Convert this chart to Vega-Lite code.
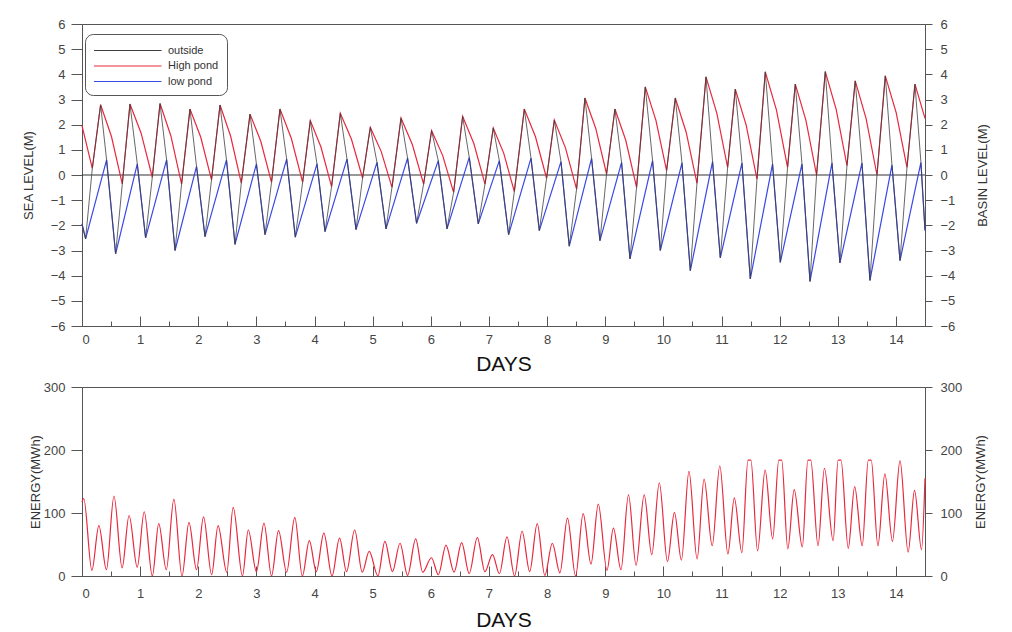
{
"$schema": "https://vega.github.io/schema/vega-lite/v6.json",
"background": "white",
"padding": {"left": 21, "top": 17, "right": 5, "bottom": 5},
"spacing": 5,
"config": {
  "font": "Liberation Sans",
  "view": {"stroke": "#555", "strokeWidth": 1},
  "axis": {"domainColor": "#555", "tickColor": "#555", "labelColor": "#444", "titleColor": "#333", "labelFontSize": 13, "titleFontSize": 13, "titleFontWeight": "normal", "grid": false, "labelFont": "Liberation Sans", "titleFont": "Liberation Sans"}
},
"datasets": {
  "outside": [
{"d":0,"v":-1.94},
{"d":0.062,"v":-2.54},{"d":0.177,"v":0.26},{"d":0.32,"v":2.79},{"d":0.423,"v":0.6},
{"d":0.578,"v":-3.13},{"d":0.693,"v":-0.36},{"d":0.825,"v":2.82},{"d":0.951,"v":0.44},
{"d":1.094,"v":-2.5},{"d":1.209,"v":-0.09},{"d":1.342,"v":2.84},{"d":1.455,"v":0.6},
{"d":1.6,"v":-3.0},{"d":1.713,"v":-0.36},{"d":1.857,"v":2.62},{"d":1.97,"v":0.34},
{"d":2.116,"v":-2.45},{"d":2.228,"v":-0.19},{"d":2.374,"v":2.78},{"d":2.485,"v":0.6},
{"d":2.632,"v":-2.76},{"d":2.74,"v":-0.32},{"d":2.89,"v":2.42},{"d":3.0,"v":0.44},
{"d":3.148,"v":-2.37},{"d":3.26,"v":-0.29},{"d":3.405,"v":2.62},{"d":3.52,"v":0.63},
{"d":3.669,"v":-2.47},{"d":3.795,"v":-0.29},{"d":3.927,"v":2.16},{"d":4.042,"v":0.44},
{"d":4.18,"v":-2.25},{"d":4.293,"v":-0.46},{"d":4.443,"v":2.45},{"d":4.558,"v":0.63},
{"d":4.713,"v":-2.17},{"d":4.826,"v":-0.12},{"d":4.959,"v":1.89},{"d":5.074,"v":0.5},
{"d":5.229,"v":-2.14},{"d":5.332,"v":-0.49},{"d":5.487,"v":2.26},{"d":5.6,"v":0.67},
{"d":5.755,"v":-1.92},{"d":5.876,"v":-0.36},{"d":6.013,"v":1.76},{"d":6.128,"v":0.57},
{"d":6.278,"v":-2.14},{"d":6.392,"v":-0.69},{"d":6.547,"v":2.33},{"d":6.661,"v":0.7},
{"d":6.816,"v":-1.94},{"d":6.932,"v":-0.36},{"d":7.074,"v":1.87},{"d":7.178,"v":0.57},
{"d":7.338,"v":-2.37},{"d":7.436,"v":-0.66},{"d":7.608,"v":2.62},{"d":7.723,"v":0.67},
{"d":7.866,"v":-2.21},{"d":7.991,"v":-0.13},{"d":8.124,"v":2.18},{"d":8.239,"v":0.53},
{"d":8.381,"v":-2.83},{"d":8.507,"v":-0.56},{"d":8.651,"v":3.06},{"d":8.765,"v":0.66},
{"d":8.909,"v":-2.61},{"d":9.023,"v":0.04},{"d":9.167,"v":2.62},{"d":9.281,"v":0.5},
{"d":9.425,"v":-3.33},{"d":9.539,"v":-0.49},{"d":9.689,"v":3.5},{"d":9.814,"v":0.57},
{"d":9.947,"v":-3.0},{"d":10.055,"v":0.17},{"d":10.205,"v":3.06},{"d":10.32,"v":0.48},
{"d":10.463,"v":-3.8},{"d":10.578,"v":-0.33},{"d":10.733,"v":3.9},{"d":10.846,"v":0.53},
{"d":10.979,"v":-3.29},{"d":11.105,"v":0.3},{"d":11.237,"v":3.41},{"d":11.352,"v":0.48},
{"d":11.495,"v":-4.13},{"d":11.61,"v":-0.16},{"d":11.753,"v":4.1},{"d":11.878,"v":0.44},
{"d":12.011,"v":-3.47},{"d":12.136,"v":0.3},{"d":12.269,"v":3.61},{"d":12.384,"v":0.44},
{"d":12.522,"v":-4.23},{"d":12.635,"v":0.0},{"d":12.785,"v":4.11},{"d":12.9,"v":0.48},
{"d":13.037,"v":-3.49},{"d":13.158,"v":0.37},{"d":13.3,"v":3.74},{"d":13.416,"v":0.48},
{"d":13.553,"v":-4.19},{"d":13.674,"v":0.0},{"d":13.817,"v":3.94},{"d":13.932,"v":0.4},
{"d":14.07,"v":-3.4},{"d":14.19,"v":0.3},{"d":14.327,"v":3.61},{"d":14.43,"v":0.5},
{"d":14.5,"v":-2.2}
  ],
  "high": [
{"d":0,"v":1.96},
{"d":0.177,"v":0.26},{"d":0.32,"v":2.79},{"d":0.507,"v":1.53},
{"d":0.693,"v":-0.36},{"d":0.825,"v":2.82},{"d":1.017,"v":1.66},
{"d":1.209,"v":-0.09},{"d":1.342,"v":2.84},{"d":1.528,"v":1.56},
{"d":1.713,"v":-0.36},{"d":1.857,"v":2.62},{"d":2.043,"v":1.5},
{"d":2.228,"v":-0.19},{"d":2.374,"v":2.78},{"d":2.557,"v":1.54},
{"d":2.74,"v":-0.32},{"d":2.89,"v":2.42},{"d":3.075,"v":1.34},
{"d":3.26,"v":-0.29},{"d":3.405,"v":2.62},{"d":3.6,"v":1.46},
{"d":3.795,"v":-0.29},{"d":3.927,"v":2.16},{"d":4.11,"v":1.11},
{"d":4.293,"v":-0.46},{"d":4.443,"v":2.45},{"d":4.635,"v":1.42},
{"d":4.826,"v":-0.12},{"d":4.959,"v":1.89},{"d":5.146,"v":0.94},
{"d":5.332,"v":-0.49},{"d":5.487,"v":2.26},{"d":5.682,"v":1.21},
{"d":5.876,"v":-0.36},{"d":6.013,"v":1.76},{"d":6.203,"v":0.78},
{"d":6.392,"v":-0.69},{"d":6.547,"v":2.33},{"d":6.74,"v":1.25},
{"d":6.932,"v":-0.36},{"d":7.074,"v":1.87},{"d":7.255,"v":0.86},
{"d":7.436,"v":-0.66},{"d":7.608,"v":2.62},{"d":7.8,"v":1.52},
{"d":7.991,"v":-0.13},{"d":8.124,"v":2.18},{"d":8.316,"v":1.08},
{"d":8.507,"v":-0.56},{"d":8.651,"v":3.06},{"d":8.837,"v":1.85},
{"d":9.023,"v":0.04},{"d":9.167,"v":2.62},{"d":9.353,"v":1.38},
{"d":9.539,"v":-0.49},{"d":9.689,"v":3.5},{"d":9.872,"v":2.17},
{"d":10.055,"v":0.17},{"d":10.205,"v":3.06},{"d":10.392,"v":1.7},
{"d":10.578,"v":-0.33},{"d":10.733,"v":3.9},{"d":10.919,"v":2.46},
{"d":11.105,"v":0.3},{"d":11.237,"v":3.41},{"d":11.424,"v":1.98},
{"d":11.61,"v":-0.16},{"d":11.753,"v":4.1},{"d":11.945,"v":2.58},
{"d":12.136,"v":0.3},{"d":12.269,"v":3.61},{"d":12.452,"v":2.17},
{"d":12.635,"v":0.0},{"d":12.785,"v":4.11},{"d":12.972,"v":2.61},
{"d":13.158,"v":0.37},{"d":13.3,"v":3.74},{"d":13.487,"v":2.24},
{"d":13.674,"v":0.0},{"d":13.817,"v":3.94},{"d":14.004,"v":2.48},
{"d":14.19,"v":0.3},{"d":14.327,"v":3.61},{"d":14.5,"v":2.25}
  ],
  "low": [
{"d":0,"v":-1.94},{"d":0.062,"v":-2.54},{"d":0.423,"v":0.6},{"d":0.578,"v":-3.13},{"d":0.951,"v":0.44},
{"d":1.094,"v":-2.5},{"d":1.455,"v":0.6},{"d":1.6,"v":-3.0},{"d":1.97,"v":0.34},{"d":2.116,"v":-2.45},
{"d":2.485,"v":0.6},{"d":2.632,"v":-2.76},{"d":3.0,"v":0.44},{"d":3.148,"v":-2.37},{"d":3.52,"v":0.63},
{"d":3.669,"v":-2.47},{"d":4.042,"v":0.44},{"d":4.18,"v":-2.25},{"d":4.558,"v":0.63},{"d":4.713,"v":-2.17},
{"d":5.074,"v":0.5},{"d":5.229,"v":-2.14},{"d":5.6,"v":0.67},{"d":5.755,"v":-1.92},{"d":6.128,"v":0.57},
{"d":6.278,"v":-2.14},{"d":6.661,"v":0.7},{"d":6.816,"v":-1.94},{"d":7.178,"v":0.57},{"d":7.338,"v":-2.37},
{"d":7.723,"v":0.67},{"d":7.866,"v":-2.21},{"d":8.239,"v":0.53},{"d":8.381,"v":-2.83},{"d":8.765,"v":0.66},
{"d":8.909,"v":-2.61},{"d":9.281,"v":0.5},{"d":9.425,"v":-3.33},{"d":9.814,"v":0.57},{"d":9.947,"v":-3.0},
{"d":10.32,"v":0.48},{"d":10.463,"v":-3.8},{"d":10.846,"v":0.53},{"d":10.979,"v":-3.29},{"d":11.352,"v":0.48},
{"d":11.495,"v":-4.13},{"d":11.878,"v":0.44},{"d":12.011,"v":-3.47},{"d":12.384,"v":0.44},{"d":12.522,"v":-4.23},
{"d":12.9,"v":0.48},{"d":13.037,"v":-3.49},{"d":13.416,"v":0.48},{"d":13.553,"v":-4.19},{"d":13.932,"v":0.4},
{"d":14.07,"v":-3.4},{"d":14.43,"v":0.5},{"d":14.5,"v":-2.2}
  ],
  "energy": [
{"d":0,"e":117},{"d":0.03,"e":123},{"d":0.17,"e":9},{"d":0.29,"e":80},{"d":0.42,"e":10},{"d":0.55,"e":127},
{"d":0.69,"e":13},{"d":0.81,"e":96},{"d":0.95,"e":14},{"d":1.07,"e":102},{"d":1.21,"e":0},{"d":1.32,"e":83},
{"d":1.45,"e":10},{"d":1.58,"e":122},{"d":1.72,"e":0},{"d":1.84,"e":85},{"d":1.97,"e":10},{"d":2.09,"e":94},
{"d":2.23,"e":2},{"d":2.34,"e":80},{"d":2.49,"e":6},{"d":2.6,"e":109},{"d":2.76,"e":0},{"d":2.86,"e":73},
{"d":3.0,"e":7},{"d":3.13,"e":84},{"d":3.26,"e":0},{"d":3.38,"e":72},{"d":3.52,"e":6},{"d":3.66,"e":93},
{"d":3.79,"e":0},{"d":3.91,"e":56},{"d":4.03,"e":7},{"d":4.16,"e":68},{"d":4.3,"e":0},{"d":4.43,"e":60},
{"d":4.55,"e":7},{"d":4.69,"e":73},{"d":4.82,"e":6},{"d":4.94,"e":39},{"d":5.09,"e":0},{"d":5.21,"e":55},
{"d":5.34,"e":7},{"d":5.47,"e":52},{"d":5.6,"e":1},{"d":5.74,"e":59},{"d":5.86,"e":6},{"d":6.01,"e":29},
{"d":6.13,"e":2},{"d":6.26,"e":49},{"d":6.4,"e":6},{"d":6.53,"e":53},{"d":6.66,"e":4},{"d":6.8,"e":61},
{"d":6.93,"e":7},{"d":7.06,"e":34},{"d":7.18,"e":4},{"d":7.31,"e":62},{"d":7.44,"e":0},{"d":7.57,"e":71},
{"d":7.7,"e":7},{"d":7.83,"e":83},{"d":7.96,"e":1},{"d":8.09,"e":52},{"d":8.22,"e":5},{"d":8.35,"e":92},
{"d":8.49,"e":0},{"d":8.62,"e":99},{"d":8.755,"e":19},{"d":8.88,"e":114},{"d":9.03,"e":9},{"d":9.14,"e":76},
{"d":9.27,"e":10},{"d":9.4,"e":129},{"d":9.53,"e":17},{"d":9.67,"e":129},{"d":9.8,"e":34},{"d":9.93,"e":148},
{"d":10.07,"e":23},{"d":10.19,"e":101},{"d":10.31,"e":25},{"d":10.44,"e":166},{"d":10.58,"e":27},{"d":10.7,"e":154},
{"d":10.84,"e":48},{"d":10.97,"e":175},{"d":11.11,"e":35},{"d":11.22,"e":124},{"d":11.35,"e":37},
{"d":11.455,"e":184},{"d":11.505,"e":184},{"d":11.62,"e":40},{"d":11.75,"e":168},{"d":11.88,"e":59},
{"d":11.985,"e":184},{"d":12.035,"e":184},{"d":12.14,"e":43},{"d":12.25,"e":137},{"d":12.39,"e":46},
{"d":12.485,"e":184},{"d":12.535,"e":184},{"d":12.66,"e":48},{"d":12.77,"e":171},{"d":12.92,"e":56},
{"d":13.005,"e":184},{"d":13.055,"e":184},{"d":13.18,"e":44},{"d":13.29,"e":142},{"d":13.42,"e":48},
{"d":13.525,"e":184},{"d":13.575,"e":184},{"d":13.69,"e":48},{"d":13.81,"e":162},{"d":13.94,"e":55},
{"d":14.07,"e":183},{"d":14.21,"e":38},{"d":14.32,"e":136},{"d":14.44,"e":42},{"d":14.5,"e":155}
  ]
},
"vconcat": [
{
  "width": 843, "height": 302,
  "layer": [
    {"data": {"values": [{}]}, "mark": {"type": "rule", "color": "#333", "strokeWidth": 1},
     "encoding": {"y": {"datum": 0, "type": "quantitative", "scale": {"domain": [-6, 6], "nice": false}, "axis": null}}},
    {"data": {"name": "high"}, "mark": {"type": "line", "strokeWidth": 1.2},
     "encoding": {
       "x": {"field": "d", "type": "quantitative", "scale": {"domain": [0, 14.5], "nice": false, "zero": false},
             "axis": {"orient": "bottom", "values": [0,1,2,3,4,5,6,7,8,9,10,11,12,13,14], "format": "d", "tickSize": -10, "labelPadding": 17, "title": "DAYS", "titleFontSize": 21, "titleColor": "#111", "titlePadding": 7}},
       "y": {"field": "v", "type": "quantitative", "scale": {"domain": [-6, 6], "nice": false},
             "axis": {"orient": "left", "values": [-6,-5,-4,-3,-2,-1,0,1,2,3,4,5,6], "format": "d", "tickSize": 11, "labelPadding": 6, "title": "SEA LEVEL(M)", "titlePadding": 15}},
       "color": {"datum": "High pond", "type": "nominal",
                 "scale": {"domain": ["outside", "High pond", "low pond"], "range": ["#404040", "#e8283c", "#3848e8"]},
                 "legend": {"orient": "none", "legendX": 3, "legendY": 10, "title": null, "symbolType": "M-1,0H8", "symbolSize": 225, "symbolStrokeWidth": 1.2, "labelOffset": 58, "labelFontSize": 11, "labelColor": "#333", "rowPadding": 1.5, "padding": 8, "strokeColor": "#555", "fillColor": "white", "cornerRadius": 8}}
     }},
    {"data": {"name": "low"}, "mark": {"type": "line", "strokeWidth": 1.2},
     "encoding": {
       "x": {"field": "d", "type": "quantitative",
             "axis": {"orient": "bottom", "values": [0.5,1.5,2.5,3.5,4.5,5.5,6.5,7.5,8.5,9.5,10.5,11.5,12.5,13.5], "tickSize": -5, "labels": false, "domain": false, "title": null}},
       "y": {"field": "v", "type": "quantitative",
             "axis": {"orient": "right", "values": [-6,-5,-4,-3,-2,-1,0,1,2,3,4,5,6], "format": "d", "tickSize": 7, "labelPadding": 8, "title": "BASIN LEVEL(M)", "titlePadding": 35, "titleAngle": 270}},
       "color": {"datum": "low pond", "type": "nominal"}
     }},
    {"data": {"name": "outside"}, "mark": {"type": "line", "strokeWidth": 0.8},
     "encoding": {
       "x": {"field": "d", "type": "quantitative", "axis": null},
       "y": {"field": "v", "type": "quantitative", "axis": null},
       "color": {"datum": "outside", "type": "nominal"}
     }}
  ],
  "resolve": {"axis": {"x": "independent", "y": "independent"}}
},
{
  "width": 843, "height": 189,
  "data": {"name": "energy"},
  "layer": [
    {"mark": {"type": "line", "strokeWidth": 1.2, "color": "#e8283c", "interpolate": "monotone"},
     "encoding": {
       "x": {"field": "d", "type": "quantitative", "scale": {"domain": [0, 14.5], "nice": false, "zero": false},
             "axis": {"orient": "bottom", "values": [0,1,2,3,4,5,6,7,8,9,10,11,12,13,14], "format": "d", "tickSize": -10, "labelPadding": 21, "title": "DAYS", "titleFontSize": 21, "titleColor": "#111", "titlePadding": 9}},
       "y": {"field": "e", "type": "quantitative", "scale": {"domain": [0, 300], "nice": false},
             "axis": {"orient": "left", "values": [0, 100, 200, 300], "tickSize": 11, "labelPadding": 6, "title": "ENERGY(MWh)", "titlePadding": 1}}
     }},
    {"mark": {"type": "line", "strokeOpacity": 0},
     "encoding": {
       "x": {"field": "d", "type": "quantitative",
             "axis": {"orient": "bottom", "values": [0.5,1.5,2.5,3.5,4.5,5.5,6.5,7.5,8.5,9.5,10.5,11.5,12.5,13.5], "tickSize": -5, "labels": false, "domain": false, "title": null}},
       "y": {"field": "e", "type": "quantitative",
             "axis": {"orient": "right", "values": [0, 100, 200, 300], "tickSize": 7, "labelPadding": 8, "title": "ENERGY(MWh)", "titlePadding": 26, "titleAngle": 270}}
     }}
  ],
  "resolve": {"axis": {"x": "independent", "y": "independent"}}
}
]
}
